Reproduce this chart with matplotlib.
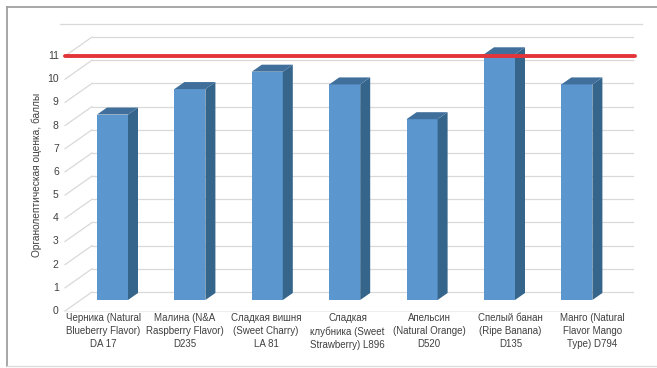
import numpy as np
import matplotlib
matplotlib.use('Agg')
import matplotlib.pyplot as plt
from matplotlib.patches import Polygon
from matplotlib.lines import Line2D

plt.rcParams['font.family'] = ['Liberation Sans', 'DejaVu Sans']

# data
categories = ['Черника (Natural\nBlueberry Flavor)\nDA 17',
              'Малина (N&A\nRaspberry Flavor)\nD235',
              'Сладкая вишня\n(Sweet Charry)\nLA 81',
              'Сладкая\nклубника (Sweet\nStrawberry) L896',
              'Апельсин\n(Natural Orange)\nD520',
              'Спелый банан\n(Ripe Banana)\nD135',
              'Манго (Natural\nFlavor Mango\nType) D794']
values = [8.0, 9.1, 9.85, 9.3, 7.8, 10.6, 9.3]
threshold = 11
y_ticks = list(range(0, 12))
y_label = 'Органолептическая оценка, баллы'

# colours
c_front = '#5b96cf'
c_side = '#36658c'
c_top = '#3f6f9a'
c_grid = '#d9d9d9'
c_text = '#404040'

# pseudo-3d geometry (pixels -> data units)
px_x, px_y = 77.4, 23.18
fx, fy = -15.6 / px_x, -11 / px_y      # front plane relative to bar plane
bx, by = 11.4 / px_x, 8 / px_y         # back wall relative to bar plane
ddx, ddy = 10 / px_x, 7 / px_y         # bar depth
bar_w = 31 / px_x
x_wall = (65 - 112.5) / px_x           # left wall front edge
x_right = (633 - 112.5) / px_x

fig = plt.figure(figsize=(6.57, 3.68), dpi=100)
ax = fig.add_axes([0, 0, 1, 1])
ax.set_xlim(-112.5 / px_x, (657 - 112.5) / px_x)
ax.set_ylim((300 - 368) / px_y, 300 / px_y)
ax.axis('off')

# back wall gridlines + left wall diagonals
for v in y_ticks:
    ax.plot([x_wall + bx - fx, x_right], [v + by, v + by], color=c_grid, lw=0.9, zorder=1)
    ax.plot([x_wall, x_wall + bx - fx], [v + fy, v + by], color=c_grid, lw=0.9, zorder=1)
    ax.text(x_wall - 0.08, v + fy, str(v), ha='right', va='center',
            fontsize=7.5, color=c_text)
ax.plot([(60 - 112.5) / px_x, (642 - 112.5) / px_x], [11.9, 11.9], color=c_grid, lw=0.9)
# floor front edge
ax.plot([x_wall, x_right - 0.3], [fy, fy], color='#eeeeee', lw=0.8, zorder=1)

# bars: front faces via bar(), side/top faces from the same values
x = np.arange(len(values))
ax.bar(x, values, width=bar_w, color=c_front, zorder=3)
for xi, v in zip(x, values):
    l, r = xi - bar_w / 2, xi + bar_w / 2
    ax.add_patch(Polygon([(r, 0), (r + ddx, ddy), (r + ddx, v + ddy), (r, v)],
                         closed=True, fc=c_side, ec='none', zorder=3))
    ax.add_patch(Polygon([(l, v), (l + ddx, v + ddy), (r + ddx, v + ddy), (r, v)],
                         closed=True, fc=c_top, ec='none', zorder=3))

# threshold line on the front plane
ax.plot([x_wall, (635 - 112.5) / px_x], [threshold + fy, threshold + fy],
        color='#e3343a', lw=2.8, solid_capstyle='round', zorder=5)

# category labels (front plane, slightly wider spacing)
for xi, lab in zip(x, categories):
    ax.text(2.3 + (xi - 2.3) * 1.053, (300 - 313) / px_y, lab, ha='center', va='top',
            fontsize=7, color=c_text, linespacing=1.4)

ax.text((37 - 112.5) / px_x, (300 - 175) / px_y, y_label, rotation=90,
        ha='center', va='center', fontsize=7.3, color=c_text)

# outer frame
fig.add_artist(Line2D([7 / 657, 7 / 657], [1 - 7 / 368, 1 - 366 / 368],
                      color='#a0a0a0', lw=1.3, transform=fig.transFigure))
fig.add_artist(Line2D([7 / 657, 1], [1 - 7 / 368, 1 - 7 / 368],
                      color='#a0a0a0', lw=1.3, transform=fig.transFigure))
fig.add_artist(Line2D([7 / 657, 1], [1 - 366 / 368, 1 - 366 / 368],
                      color='#dddddd', lw=1.0, transform=fig.transFigure))

fig.savefig('out.png', dpi=100)
